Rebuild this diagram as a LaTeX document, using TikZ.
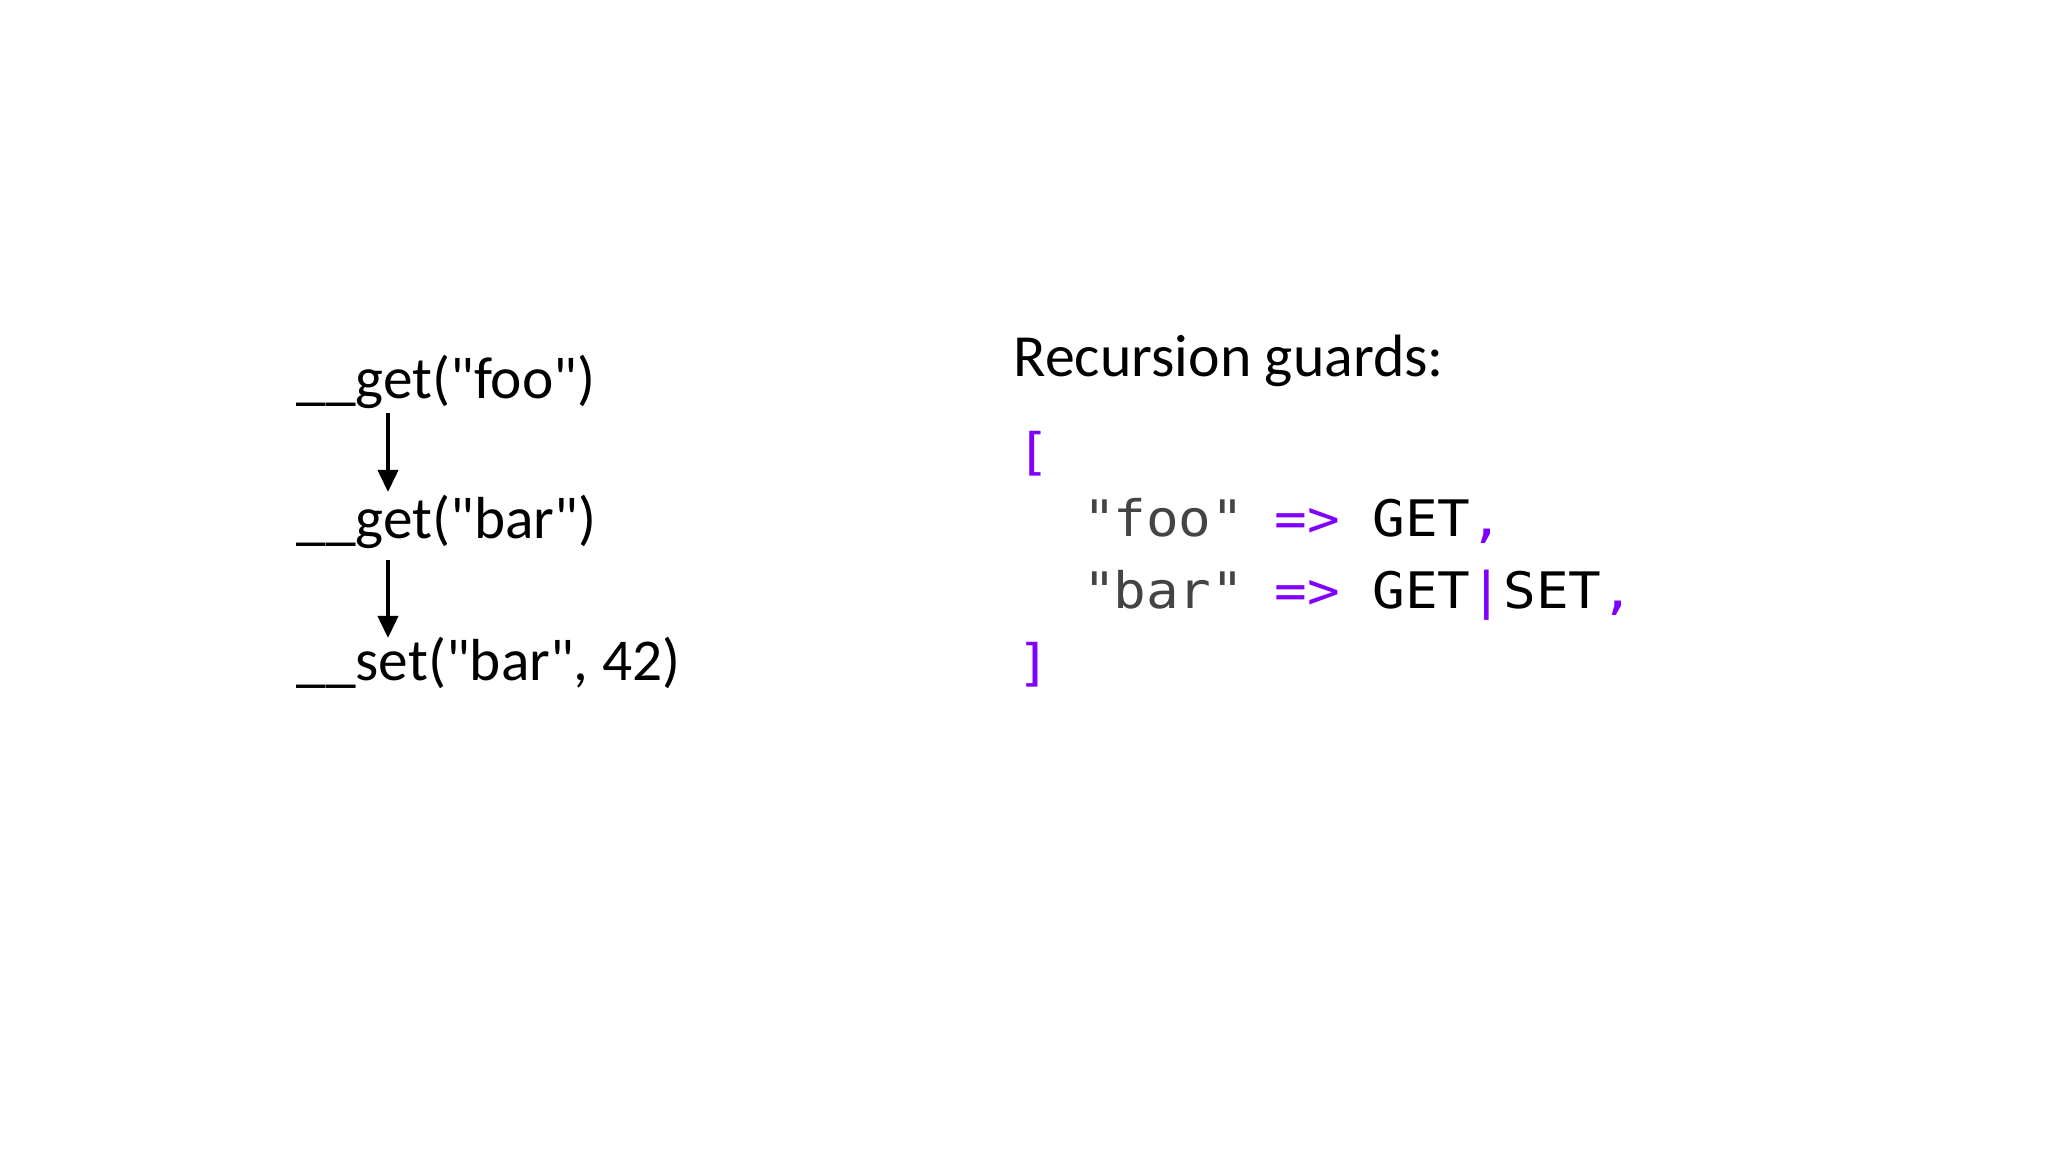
\documentclass[tikz,border=0pt]{standalone}
\usepackage{fontspec}
\setmainfont{Carlito}
\newfontfamily\codefont[FakeStretch=1.08]{DejaVu Sans Mono}
\usetikzlibrary{arrows.meta,calc}
\definecolor{kwpurple}{HTML}{7F00FF}
\definecolor{strgray}{HTML}{444444}
\tikzset{
  callnode/.style={anchor=base west, inner sep=0pt, font=\fontsize{16.87pt}{20pt}\selectfont},
  headnode/.style={anchor=base west, inner sep=0pt, font=\fontsize{17pt}{20pt}\selectfont},
  codenode/.style={anchor=base west, inner sep=0pt, font=\codefont\fontsize{14.3pt}{17pt}\selectfont},
  flow/.style={line width=1.1pt, -{Triangle[width=0.2cm,length=0.22cm]}},
}
\newcommand{\pu}[1]{\textcolor{kwpurple}{#1}}
\newcommand{\gr}[1]{\textcolor{strgray}{#1}}
\newcommand{\dq}{\textquotedbl}
\begin{document}
\begin{tikzpicture}[x=0.01cm,y=-0.01cm]
\fill[white] (0,0) rectangle (2048,1152);
\useasboundingbox (0,0) rectangle (2048,1152);
\node[callnode] (foo) at (296,399) {\_\_get(\dq foo\dq)};
\node[callnode] (bar) at (296,538) {\_\_get(\dq bar\dq)};
\node[callnode] (set) at (296,680) {\_\_set(\dq bar\dq, 42)};
\draw[flow] ($(foo.base west)+(92,14)$) -- ($(bar.base west)+(92,-46)$);
\draw[flow] ($(bar.base west)+(92,22)$) -- ($(set.base west)+(92,-42)$);
\node[headnode] (head) at (1013,377) {Recursion guards:};
\node[codenode] (l1) at (1017,470) {\pu{[}};
\node[codenode] (l2) at (1017,537) {\ \ \gr{\dq foo\dq}\ \pu{=>}\ GET\pu{,}};
\node[codenode] (l3) at (1017,608) {\ \ \gr{\dq bar\dq}\ \pu{=>}\ GET\pu{|}SET\pu{,}};
\node[codenode] (l4) at (1017,680) {\pu{]}};
\end{tikzpicture}
\end{document}
